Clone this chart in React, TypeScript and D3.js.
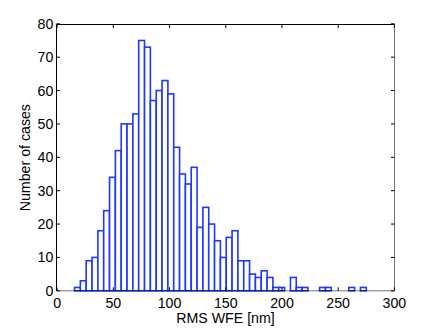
import React from "react";
import * as d3 from "d3";

// Histogram data (50 bins between min and max of the data)
const binMin = 15.5;
const binMax = 275;
const counts = [
  1, 3, 9, 10, 18, 24, 34, 42, 50, 50,
  53, 75, 73, 57, 60, 63, 59, 43, 35, 32,
  37, 19, 25, 20, 15, 10, 16, 18, 9, 9,
  5, 4, 6, 4, 1, 1, 0, 4, 1, 1,
  0, 0, 1, 1, 0, 0, 0, 1, 0, 1,
];
const xTicks = [0, 50, 100, 150, 200, 250, 300];
const yTicks = [0, 10, 20, 30, 40, 50, 60, 70, 80];
const xLabel = "RMS WFE [nm]";
const yLabel = "Number of cases";

const W = 436;
const H = 328;
const L = 56.5;
const R = 394.5;
const T = 24.5;
const B = 290.8;

export default function App() {
  const x = d3.scaleLinear().domain([0, 300]).range([57.1, 394.4]);
  const y = d3.scaleLinear().domain([0, 80]).range([B, T - 0.7]);
  const bw = (binMax - binMin) / counts.length;
  const font = "'Liberation Sans', Arial, Helvetica, sans-serif";
  const tl = 3.5;

  return (
    <div style={{ position: "absolute", left: 0, top: 0 }}>
      <svg width={W} height={H} style={{ display: "block", background: "#fff" }}>
        <rect x={0} y={0} width={W} height={H} fill="#fff" />
        {/* bars */}
        <g fill="#fff" stroke="#1f37ff" strokeWidth={1.6}>
          {counts.map((c, i) => {
            const x0 = x(binMin + i * bw);
            const x1 = x(binMin + (i + 1) * bw);
            return (
              <rect
                key={i}
                x={x0}
                y={y(c)}
                width={x1 - x0}
                height={y(0) - y(c)}
              />
            );
          })}
        </g>
        {/* axes box */}
        <g stroke="#000" strokeWidth={1} fill="none">
          <line x1={L} y1={T} x2={R} y2={T} />
          <line x1={L} y1={T} x2={L} y2={B} />
          <line x1={R} y1={T} x2={R} y2={B} strokeOpacity={0.55} />
          <line x1={L} y1={B} x2={R} y2={B} strokeOpacity={0.55} />
          {xTicks.map((t) => (
            <g key={"xt" + t}>
              <line x1={x(t)} x2={x(t)} y1={B} y2={B - tl} />
              <line x1={x(t)} x2={x(t)} y1={T} y2={T + tl} />
            </g>
          ))}
          {yTicks.map((t) => (
            <g key={"yt" + t}>
              <line x1={L} x2={L + tl} y1={y(t)} y2={y(t)} />
              <line x1={R} x2={R - tl} y1={y(t)} y2={y(t)} />
            </g>
          ))}
        </g>
        {/* tick labels */}
        <g fontFamily={font} fontSize={14.2} fill="#000">
          {xTicks.map((t) => (
            <text key={"xl" + t} x={x(t)} y={307.9} textAnchor="middle">
              {t}
            </text>
          ))}
          {yTicks.map((t) => (
            <text
              key={"yl" + t}
              x={53.3}
              y={y(t)}
              textAnchor="end"
              dominantBaseline="central"
            >
              {t}
            </text>
          ))}
          <text x={(L + R) / 2} y={323} textAnchor="middle">
            {xLabel}
          </text>
          <text
            transform={`translate(29.5, ${(T + B) / 2}) rotate(-90)`}
            textAnchor="middle"
          >
            {yLabel}
          </text>
        </g>
      </svg>
    </div>
  );
}
